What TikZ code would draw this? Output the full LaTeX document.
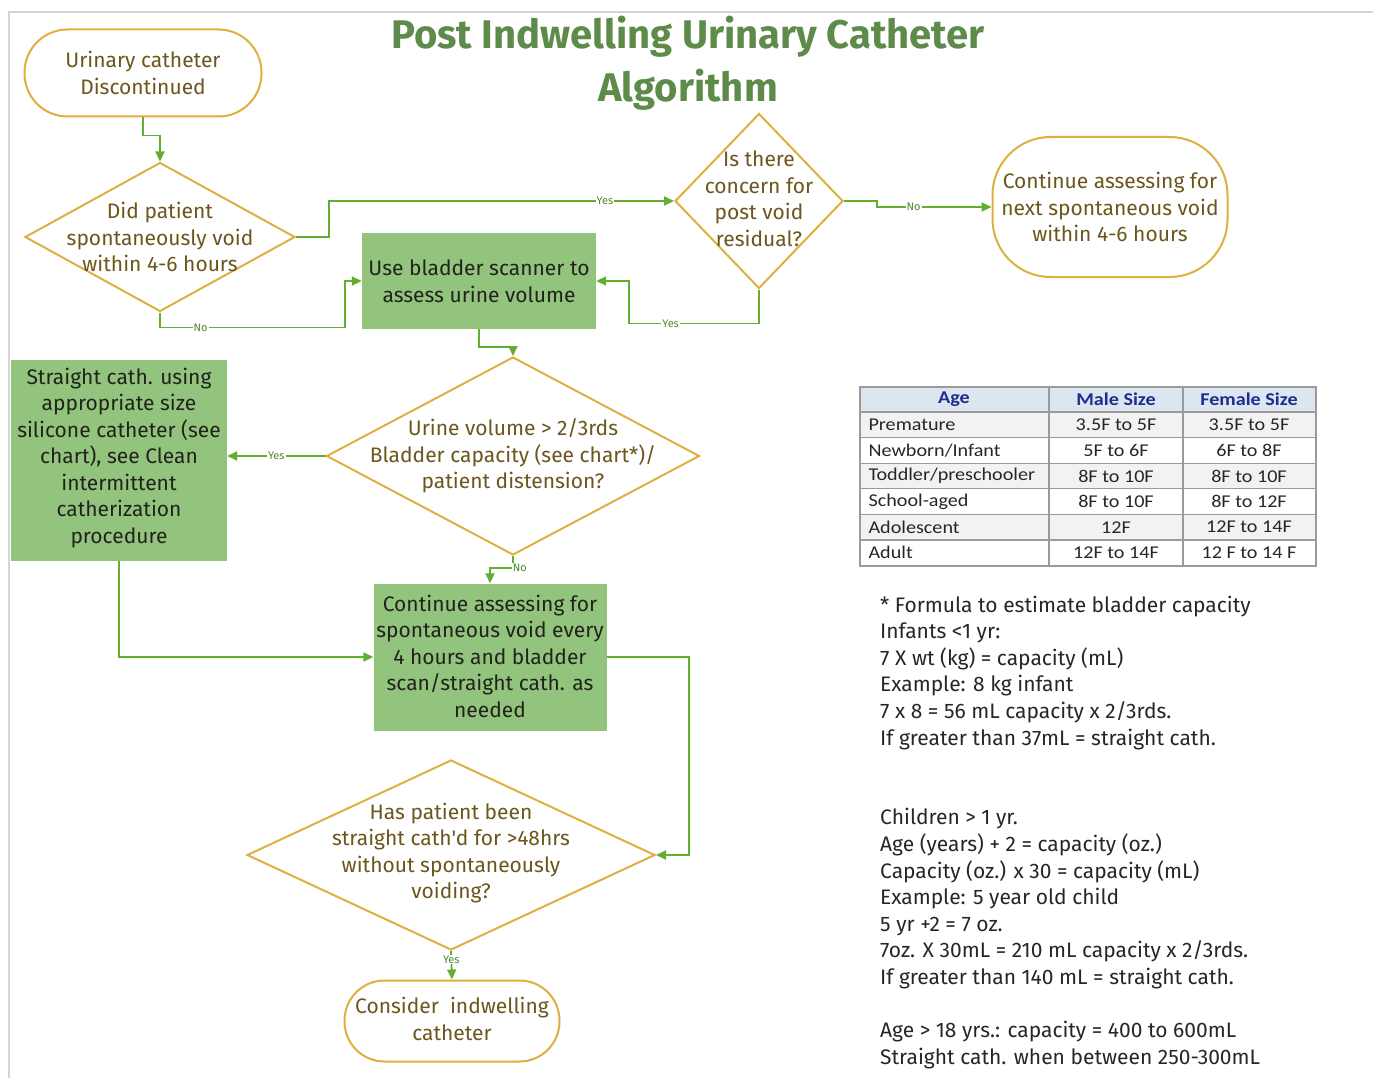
\documentclass[tikz,border=0pt]{standalone}
\usepackage{fontspec}
\setmainfont{Fira Sans}
\newfontfamily\flowfont{Fira Sans}
\newfontfamily\titlefont{Fira Sans}
\newfontfamily\notefont{Fira Sans}
\newfontfamily\tabfont[FakeStretch=1.12]{Carlito}
\usetikzlibrary{shapes.geometric,arrows.meta}
\definecolor{goldc}{HTML}{DDB040}
\definecolor{oliv}{HTML}{6B561C}
\definecolor{boxg}{HTML}{93C47D}
\definecolor{boxtxt}{HTML}{22221C}
\definecolor{lineg}{HTML}{62AE30}
\definecolor{lblg}{HTML}{4E8A2A}
\definecolor{titleg}{HTML}{5E8B4A}
\definecolor{frameg}{HTML}{D4D4D4}
\definecolor{tabhead}{HTML}{DCE6F1}
\definecolor{tabalt}{HTML}{F2F2F2}
\definecolor{tabline}{HTML}{9A9A9A}
\definecolor{tabblue}{HTML}{1F2E8C}
\definecolor{notec}{HTML}{262626}
\tikzset{
  ftext/.style={align=center, text=oliv, font=\flowfont\fontsize{21}{26.5}\selectfont},
  btext/.style={align=center, text=boxtxt, font=\flowfont\fontsize{21}{26.5}\selectfont},
  oval/.style={draw=goldc, line width=2pt, fill=white, inner sep=0pt},
  dia/.style={draw=goldc, line width=2pt, shape=diamond, inner sep=0pt, fill=white},
  gbox/.style={fill=boxg, draw=none, inner sep=0pt},
  conn/.style={draw=lineg, line width=1.8pt, -{Triangle[length=10pt,width=9pt]}},
  lbl/.style={font=\flowfont\fontsize{11}{11}\selectfont, text=lblg, fill=white, inner sep=1pt},
  tcell/.style={font=\tabfont\fontsize{18}{20}\selectfont, text=notec},
  thead/.style={font=\tabfont\bfseries\fontsize{18}{20}\selectfont, text=tabblue},
  ntext/.style={anchor=base west, font=\notefont\fontsize{21}{24}\selectfont, text=notec, inner sep=0pt}
}
\begin{document}
\begin{tikzpicture}[x=1pt,y=-1pt]
\useasboundingbox (0,0) rectangle (1373,1078);
% frame
\draw[frameg, line width=2pt] (8,12) -- (1373,12);
\draw[frameg, line width=2pt] (9,12) -- (9,1078);
% title
\node[align=center, text=titleg, font=\titlefont\bfseries\fontsize{40}{53}\selectfont] (title) at (688,63) {Post Indwelling Urinary Catheter\\Algorithm};

% shapes
\node[oval, rounded corners=43pt, minimum width=237pt, minimum height=87pt] (o1) at (143,73) {};
\node[ftext] (o1t) at (o1) {Urinary catheter\\Discontinued};

\node[dia, minimum width=270pt, minimum height=149pt] (d1) at (160,237) {};
\node[ftext] (d1t) at (d1) {Did patient\\spontaneously void\\within 4-6 hours};

\node[dia, minimum width=168pt, minimum height=175pt] (d2) at (759,201) {};
\node[ftext] (d2t) at (759,199) {Is there\\concern for\\post void\\residual?};

\node[oval, rounded corners=58pt, minimum width=235pt, minimum height=140pt] (o3) at (1110,207) {};
\node[ftext] (o3t) at (o3) {Continue assessing for\\next spontaneous void\\within 4-6 hours};

\node[gbox, minimum width=234pt, minimum height=96pt] (b1) at (479,281) {};
\node[btext] (b1t) at (b1) {Use bladder scanner to\\assess urine volume};

\node[dia, minimum width=373pt, minimum height=198pt] (d3) at (513,456) {};
\node[ftext] (d3t) at (d3) {Urine volume > 2/3rds\\Bladder capacity (see chart*)/\\patient distension?};

\node[gbox, minimum width=216pt, minimum height=201pt] (b2) at (119,460) {};
\node[btext] (b2t) at (119,458) {Straight cath. using\\appropriate size\\silicone catheter (see\\chart), see Clean\\intermittent\\catherization\\procedure};

\node[gbox, minimum width=233pt, minimum height=147pt] (b3) at (490,657) {};
\node[btext] (b3t) at (490,656) {Continue assessing for\\spontaneous void every\\4 hours and bladder\\scan/straight cath. as\\needed};

\node[dia, minimum width=408pt, minimum height=190pt] (d4) at (451,855) {};
\node[ftext] (d4t) at (451,853) {Has patient been\\straight cath'd for >48hrs\\without spontaneously\\voiding?};

\node[oval, rounded corners=40pt, minimum width=215pt, minimum height=81pt] (o4) at (452,1021) {};
\node[ftext] (o4t) at (452,1019) {Consider\ \ indwelling\\catheter};

% connectors
\draw[conn] (o1.south) -- ++(0,18) -| (d1.north);
\draw[conn] (d1.east) -- ++(33,0) |- node[lbl, pos=0.9] {Yes} (d2.west);
\draw[conn] (d2.east) -- ++(33,0) |- node[lbl, pos=0.66] {No} (o3.west);
\draw[conn] (d1.south) -- ++(0,15) -- node[lbl, pos=0.22] {No} ++(185,0) |- (b1.west);
\draw[conn] (d2.south) -- ++(0,34) -- node[lbl, pos=0.68] {Yes} ++(-130,0) |- (b1.east);
\draw[conn] (b1.south) -- ++(0,18) -| (d3.north);
\draw[conn] (d3.west) -- node[lbl, pos=0.5] {Yes} (d3.west -| b2.east);
\draw[conn] (d3.south) -- ++(0,12) node[lbl, anchor=west, xshift=-2pt] {No} -| (b3.north);
\draw[conn] (b2.south) |- (b3.west);
\draw[conn] (b3.east) -- ++(82,0) |- (d4.east);
\draw[conn] (d4.south) -- node[lbl, pos=0.3] {Yes} (o4.north);

% table
\fill[tabhead] (860,387) rectangle (1316,412);
\foreach \r in {0,2,4} {
  \fill[tabalt] (860,{412+25.6*\r}) rectangle (1316,{412+25.6*(\r+1)});
}
\draw[tabline, line width=1.5pt] (860,387) rectangle (1316,566);
\foreach \r in {1,...,6} {
  \draw[tabline, line width=1.2pt] (860,{412+25.6*(\r-1)}) -- (1316,{412+25.6*(\r-1)});
}
\draw[tabline, line width=1.2pt] (1049,387) -- (1049,566);
\draw[tabline, line width=1.2pt] (1183,387) -- (1183,566);
\node[thead] (h1) at (954,399.5) {Age};
\node[thead] (h2) at (1116,399.5) {Male Size};
\node[thead] (h3) at (1249,399.5) {Female Size};
\foreach \n/\a/\m/\f in {1/Premature/3.5F to 5F/3.5F to 5F,
                         2/Newborn\slash Infant/5F to 6F/6F to 8F,
                         3/Toddler\slash preschooler/8F to 10F/8F to 10F,
                         4/School-aged/8F to 10F/8F to 12F,
                         5/Adolescent/12F/12F to 14F,
                         6/Adult/12F to 14F/12 F to 14 F} {
  \node[tcell, anchor=west] (ta\n) at (865,{424.8+25.6*(\n-1)}) {\a};
  \node[tcell] (tm\n) at (1116,{424.8+25.6*(\n-1)}) {\m};
  \node[tcell] (tf\n) at (1249,{424.8+25.6*(\n-1)}) {\f};
}

% notes
\foreach \n/\t in {0/{* Formula to estimate bladder capacity},
                   1/{Infants <1 yr:},
                   2/{7 X wt (kg) = capacity (mL)},
                   3/{Example: 8 kg infant},
                   4/{7 x 8 = 56 mL capacity x 2/3rds.},
                   5/{If greater than 37mL = straight cath.},
                   8/{Children > 1 yr.},
                   9/{Age (years) + 2 = capacity (oz.)},
                   10/{Capacity (oz.) x 30 = capacity (mL)},
                   11/{Example: 5 year old child},
                   12/{5 yr +2 = 7 oz.},
                   13/{7oz. X 30mL = 210 mL capacity x 2/3rds.},
                   14/{If greater than 140 mL = straight cath.},
                   16/{Age > 18 yrs.: capacity = 400 to 600mL},
                   17/{Straight cath. when between 250-300mL}} {
  \node[ntext] (f\n) at (880,{612+26.6*\n}) {\t};
}
\end{tikzpicture}
\end{document}
